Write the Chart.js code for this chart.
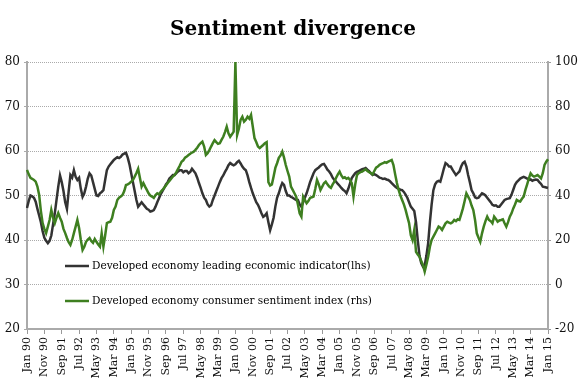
<!DOCTYPE html>
<html>
<head>
<meta charset="utf-8">
<script src="https://cdn.jsdelivr.net/npm/chart.js@4"></script>
<style>
  html, body { margin: 0; padding: 0; background: #fff; }
  #wrap { width: 585px; height: 384px; }
</style>
</head>
<body>
<div id="wrap"><canvas id="chart" width="585" height="384"></canvas></div>
<script>
// Monthly data, Jan 1990 .. Jan 2015
const tickLabels = [
    "Jan 90","Nov 90","Sep 91","Jul 92","May 93","Mar 94","Jan 95","Nov 95",
    "Sep 96","Jul 97","May 98","Mar 99","Jan 00","Nov 00","Sep 01","Jul 02",
    "May 03","Mar 04","Jan 05","Nov 05","Sep 06","Jul 07","May 08","Mar 09",
    "Jan 10","Nov 10","Sep 11","Jul 12","May 13","Mar 14","Jan 15"
];

// leading economic indicator (lhs)
const leading = [
    47.2,48.8,50,49.8,49.5,48.6,47,45.5,44,42,40.5,39.8,           // 1990
    39.3,39.8,41,43.5,46,49,52,54.5,53,51,48.5,47,                 // 1991
    51,54.6,54,55.7,54.2,53.5,54,51.5,49.7,50.5,52,53.8,           // 1992
    55,54.5,53,51.5,50,49.9,50.5,50.8,51.2,53.5,55.7,56.5,         // 1993
    57,57.5,58,58.3,58.6,58.4,58.7,59.2,59.4,59.6,58.5,57,         // 1994
    55,53,51,49,47.5,48,48.5,48,47.5,47,46.8,46.4,                 // 1995
    46.5,46.7,47.5,48.5,49.4,50.3,51,51.7,52.5,53,53.8,54.2,       // 1996
    54.6,54.6,55,55.4,55.7,55.7,55.2,55.5,55.5,55,55.3,56,         // 1997
    55.5,55,54,52.8,51.7,50.5,49.5,49,48,47.5,47.8,49,             // 1998
    50,51,52,53,53.9,54.5,55.3,56,56.8,57.3,57,56.8,               // 1999
    57,57.5,57.8,57.2,56.5,56,55.7,54.5,53,51.7,50.5,49.5,         // 2000
    48.5,47.9,47,46,45.2,45.5,46,44,42.2,43.5,45,47.5,             // 2001
    49.5,50.5,51.8,52.8,52.4,51,50,50,49.7,49.5,49.2,49,           // 2002
    49,48,47.5,48.5,49.5,50.5,51.7,53,54,55,55.7,56,               // 2003
    56.3,56.7,57,57.1,56.5,55.8,55.4,54.8,54,53.5,53.1,52.6,       // 2004
    52.2,51.7,51.3,51,50.5,51.5,52.7,53.9,54.5,55,55.3,55.5,       // 2005
    55.7,55.9,56,56.2,55.8,55.5,55,54.6,54.8,54.6,54.3,54,         // 2006
    53.9,53.7,53.8,53.6,53.5,53.2,52.8,52.4,52,51.7,51.5,51.3,     // 2007
    51.2,50.8,50.2,49.5,48.5,47.5,47,46.5,44,40,36.5,34.8,         // 2008
    34,34.3,36.5,39.3,44,48,51.2,52.5,53.1,53.3,53.1,54.5,         // 2009
    56,57.3,57,56.5,56.5,55.8,55.2,54.6,55,55.4,56.5,57.3,         // 2010
    57.6,56.5,54.6,53,51.2,50.5,49.6,49.4,49.5,50,50.5,50.3,       // 2011
    50,49.5,49,48.5,47.9,47.7,47.8,47.5,47.5,48,48.5,49,           // 2012
    49.2,49.3,49.4,50.2,51.3,52.4,53,53.4,53.8,54,54.2,54,         // 2013
    53.8,53.5,53.6,53.3,53.5,53.6,53.5,53,52.6,52,51.9,51.8,       // 2014
    51.7                                                           // Jan 2015
];

// consumer sentiment index (rhs)
const sentiment = [
    51.5,49.5,47.9,47.5,47,46.2,44,40.2,33,27.6,25,23.1,           // 1990
    26,29,33.5,30,27.6,30,32.1,30,28.2,25,23.1,20.9,               // 1991
    19,17.8,20,23.1,26,29,25.4,20,15.5,17,19.2,20.2,               // 1992
    20.9,19.5,18.7,20.5,19.2,18,17,23,17,22,27.6,28,               // 1993
    28.2,30,33.5,35,38,39,39.5,40.2,42,44.7,45,45.5,               // 1994
    46.2,47,48.5,50.1,52,48,44,45.6,44,42.5,41,40,                 // 1995
    39.5,38.9,40.2,41,40.5,41.7,42.5,43.5,44.5,45.6,46.5,47.5,     // 1996
    48.5,49.2,50.5,52,53.5,55.2,55.8,57,57.5,58.2,58.8,59.3,       // 1997
    59.7,60.5,61.5,62.7,63.5,64.2,62,58.2,59,60.4,62,63.5,         // 1998
    64.9,64,63.2,63.5,65,66.4,68.5,70.9,68,66.4,67.5,68.7,         // 1999
    100,67.2,70,74,75.4,73.2,74,75.4,74.5,76.2,71,65.8,            // 2000
    64,62,61.3,62,62.7,63.5,64,46,44.5,45,48.5,52.4,               // 2001
    54.5,56.9,58,59.7,57,53.7,51,48.5,44,42.5,41,39.5,             // 2002
    36,32,30.5,39.5,38,36.5,37.5,38.9,39.2,39.5,43,47,             // 2003
    45,42.5,44,45.5,46.2,45,44,43.4,45,46.2,48,49.5,               // 2004
    50.7,49,47.9,48.2,47.5,47.9,47,45.6,39.5,45,49.2,50,           // 2005
    50.5,50.7,51.3,51.8,51,50.5,50.1,49.5,51,52.5,53,53.8,         // 2006
    54.2,54.5,55,54.7,55.2,55.6,56,53.7,49.5,45.6,42.5,40,         // 2007
    38,36,33.5,30.5,27.6,22.2,20,24.5,14.7,13.5,12.5,10.5,         // 2008
    8.8,5.8,9,12.5,17,20,21.5,23,24.5,26,25.5,24.5,                // 2009
    26,27.5,28.2,27.8,27.5,28,29,28.5,29.3,29,31.5,34.2,           // 2010
    37.5,41,39.5,38,35.5,33.5,29,23,21,19.2,23,26,                 // 2011
    28.5,30.5,29,28.5,27.5,30.5,29.5,28.2,28.8,29,29.3,27.5,       // 2012
    26,28,30.5,32,34.2,36,38,37.5,37.3,38.5,39.5,42.5,             // 2013
    45,47.7,50,49,48.5,48.8,49.2,48.5,47.7,50,53.7,55.2,           // 2014
    56.3                                                           // Jan 2015
];

const monthNames = ["Jan","Feb","Mar","Apr","May","Jun","Jul","Aug","Sep","Oct","Nov","Dec"];
const months = leading.map((_, i) =>
    monthNames[i % 12] + " " + String((90 + Math.floor(i / 12)) % 100).padStart(2, "0"));

const SERIF = "'DejaVu Serif', Georgia, serif";
const DARK = "#333333";
const GREEN = "#3e7f20";

// title and in-plot legend
const decorations = {
    id: "decorations",
    afterDraw(chart) {
        const ctx = chart.ctx;
        ctx.save();
        ctx.fillStyle = "#000";
        ctx.font = "bold 20px " + SERIF;
        ctx.textAlign = "center";
        ctx.textBaseline = "middle";
        ctx.fillText("Sentiment divergence", 293, 30);

        const items = [
            { color: DARK, text: "Developed economy leading economic indicator(lhs)", y: 266 },
            { color: GREEN, text: "Developed economy consumer sentiment index (rhs)", y: 301 }
        ];
        ctx.font = "10.5px " + SERIF;
        ctx.textAlign = "left";
        items.forEach(it => {
            ctx.strokeStyle = it.color;
            ctx.lineWidth = 2.5;
            ctx.beginPath();
            ctx.moveTo(65, it.y);
            ctx.lineTo(89, it.y);
            ctx.stroke();
            ctx.fillStyle = "#000";
            ctx.fillText(it.text, 92, it.y);
        });
        ctx.restore();
    }
};

new Chart(document.getElementById("chart"), {
    type: "line",
    data: {
        labels: months,
        datasets: [
            {
                label: "Developed economy consumer sentiment index (rhs)",
                data: sentiment,
                yAxisID: "yR",
                borderColor: GREEN,
                borderWidth: 2.5,
                pointRadius: 0,
                tension: 0,
                order: 0
            },
            {
                label: "Developed economy leading economic indicator(lhs)",
                data: leading,
                yAxisID: "y",
                borderColor: DARK,
                borderWidth: 2.5,
                pointRadius: 0,
                tension: 0,
                order: 1
            }
        ]
    },
    options: {
        responsive: false,
        animation: false,
        layout: { padding: { top: 62, left: 0, right: 0, bottom: 0 } },
        plugins: {
            legend: { display: false },
            title: { display: false },
            tooltip: { enabled: false }
        },
        scales: {
            x: {
                offset: false,
                grid: {
                    drawOnChartArea: false,
                    drawTicks: true,
                    tickLength: 5,
                    color: "#999"
                },
                border: { color: "#aaa", width: 2 },
                ticks: {
                    autoSkip: false,
                    maxRotation: 90,
                    minRotation: 90,
                    color: "#111",
                    font: { family: SERIF, size: 11 },
                    callback: (v, i) => (i % 10 === 0 ? tickLabels[i / 10] : null)
                },
                afterFit: s => { s.height = 55; }
            },
            y: {
                position: "left",
                min: 20,
                max: 80,
                ticks: {
                    stepSize: 10,
                    color: "#111",
                    padding: 4,
                    font: { family: SERIF, size: 12 }
                },
                grid: {
                    color: "#aaa",
                    tickLength: 3,
                    lineWidth: 1
                },
                border: { color: "#aaa", width: 2, dash: [1, 1] },
                afterFit: s => { s.width = 27; }
            },
            yR: {
                position: "right",
                min: -20,
                max: 100,
                ticks: {
                    stepSize: 20,
                    color: "#111",
                    padding: 4,
                    font: { family: SERIF, size: 12 }
                },
                grid: { drawOnChartArea: false, color: "#999", tickLength: 3 },
                border: { color: "#aaa", width: 2 },
                afterFit: s => { s.width = 37; }
            }
        }
    },
    plugins: [decorations]
});
</script>
</body>
</html>
